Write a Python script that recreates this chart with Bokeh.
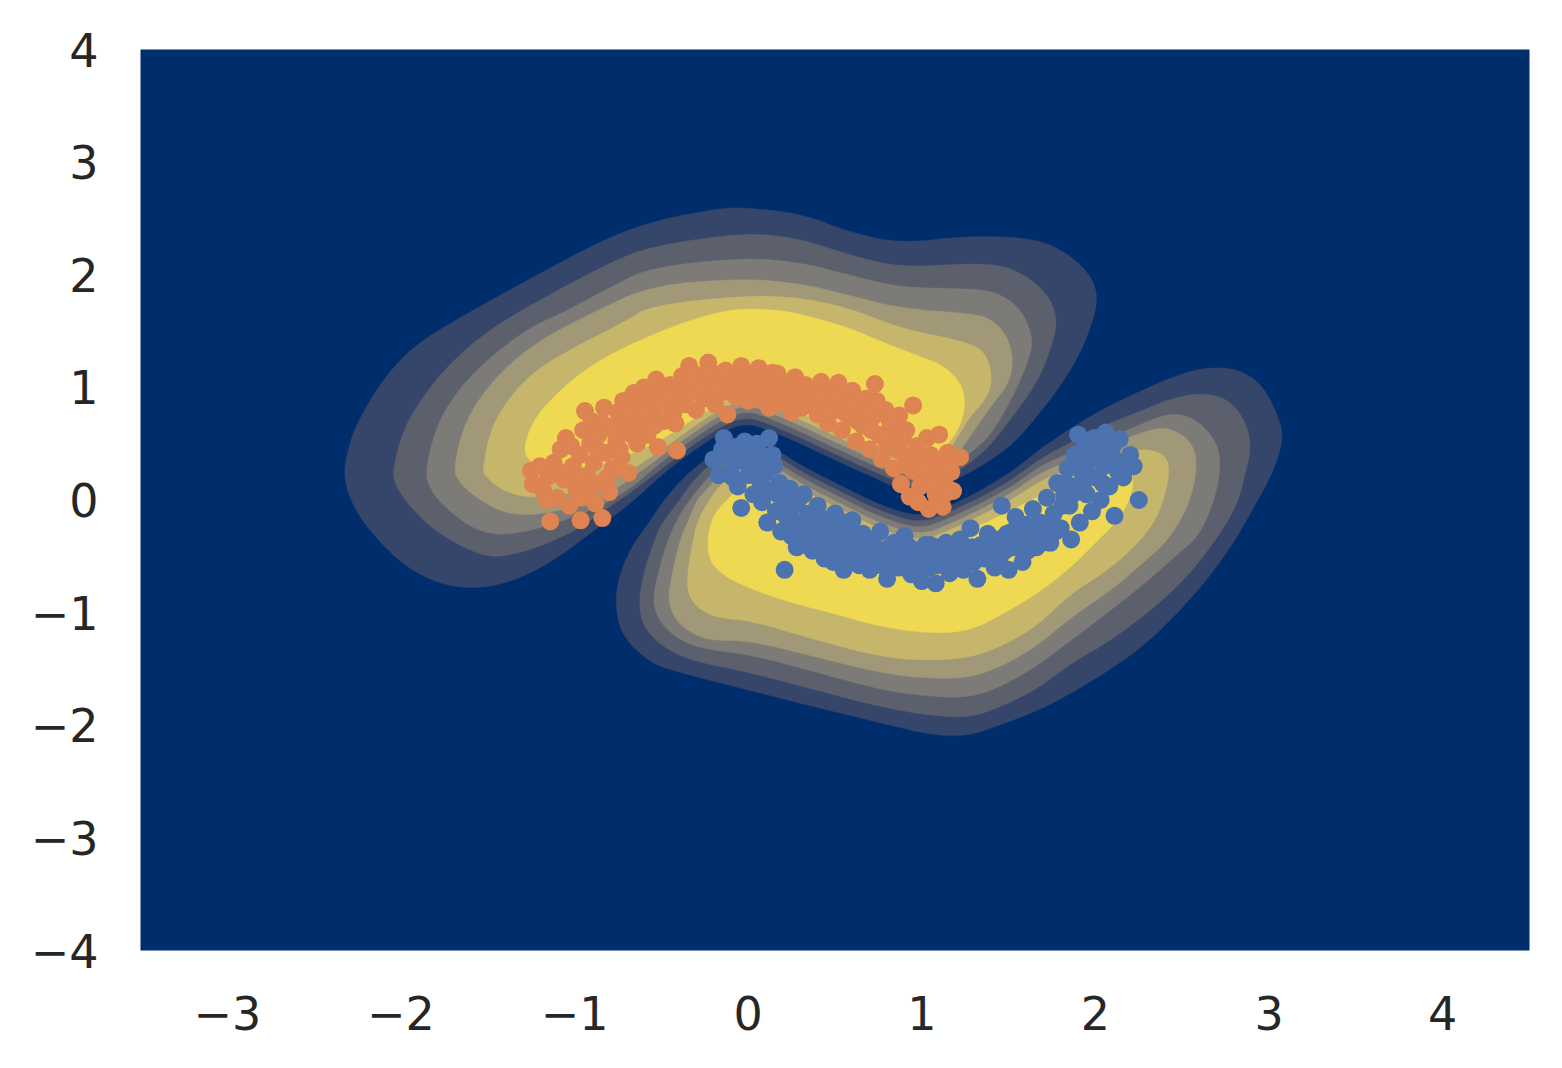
import numpy as np
from bokeh.plotting import figure
from bokeh.embed import file_html
from bokeh.resources import INLINE
from bokeh.palettes import Cividis256
from bokeh.models import Range1d, FixedTicker, CustomJSTickFormatter

# ---------------- data ----------------
x_ticks = [-3, -2, -1, 0, 1, 2, 3, 4]
y_ticks = [-4, -3, -2, -1, 0, 1, 2, 3, 4]

orange_x = [-1.25,-1.24,-1.18,-1.15,-1.14,-1.12,-1.10,-1.08,-1.06,-1.05,-1.03,-1.01,-0.99,-0.97,-0.965,-0.95,-0.94,-0.93,-0.92,-0.91,
            -0.90,-0.89,-0.88,-0.86,-0.85,-0.84,-0.83,-0.82,-0.80,-0.79,-0.78,
            -0.76,-0.75,-0.73,-0.72,-0.70,-0.69,-0.68,-0.66,-0.64,-0.63,-0.61,-0.60,-0.58,-0.56,-0.55,-0.53,-0.52,-0.50,-0.49,-0.47,
            -0.45,-0.43,-0.41,-0.40,-0.38,-0.36,-0.34,-0.32,-0.30,
            -0.28,-0.26,-0.23,-0.21,-0.19,-0.16,-0.14,-0.12,-0.10,-0.07,-0.04,-0.03,0.00,0.02,0.04,0.06,0.08,0.10,0.12,0.14,
            0.16,0.18,0.20,0.23,0.25,0.27,0.29,0.31,
            0.33,0.36,0.38,0.40,0.42,0.44,0.46,0.48,0.50,0.52,0.54,0.56,0.58,0.60,0.62,0.64,0.66,0.68,0.70,0.72,
            0.73,0.75,0.77,0.79,0.80,0.82,0.84,0.86,0.87,0.88,0.90,0.91,0.93,0.95,0.95,0.97,0.98,1.00,1.01,1.03,
            1.04,1.05,1.06,1.08,1.10,1.11,1.12,1.13,1.15,1.17,1.18,1.22,
            -1.20,-1.16,-1.09,-1.02,-0.98,-0.96,-0.90,-0.87,-0.84,-0.81,-0.77,-0.74,-0.71,-0.67,-0.65,-0.62,-0.59,-0.57,-0.54,-0.51,
            -0.48,-0.44,-0.42,-0.39,-0.35,-0.31,-0.27,-0.24,-0.20,-0.17,-0.13,-0.09,-0.05,0.01,0.05,0.09,0.13,0.17,0.21,0.26,
            0.30,0.35,0.39,0.43,0.47,0.51,0.55,0.59,0.63,0.67,0.71,0.74,0.78,0.81,0.85,0.89,0.92,0.96,0.99,1.02,
            1.07,1.09,1.14,1.16]
orange_y = [0.26,0.14,0.08,0.21,-0.19,0.33,0.02,0.45,0.18,0.55,-0.05,0.30,0.10,0.40,-0.18,0.62,0.79,0.22,0.05,0.50,
            0.70,0.33,-0.03,0.58,0.15,-0.16,0.82,0.42,0.07,0.65,0.28,
            0.52,0.78,0.38,0.88,0.60,0.24,0.72,0.95,0.50,0.83,0.68,1.00,0.58,0.88,0.76,1.07,0.47,0.95,0.70,0.85,
            1.02,0.78,0.44,0.92,1.10,0.85,1.19,0.98,0.80,
            1.08,0.90,1.22,1.02,0.85,1.12,0.96,0.76,1.05,0.92,1.19,1.00,0.88,1.10,0.97,1.17,0.90,1.04,0.82,1.13,
            0.95,1.06,0.86,1.00,0.78,1.09,0.92,0.82,
            1.02,0.88,0.97,0.76,1.05,0.85,0.68,0.96,0.80,1.04,0.62,0.88,0.74,0.97,0.52,0.82,0.66,0.90,0.45,0.74,
            1.03,0.58,0.36,0.80,0.48,0.66,0.28,0.55,0.75,0.14,0.40,0.62,0.03,0.84,0.26,0.48,-0.02,0.33,0.15,0.55,
            -0.08,0.40,0.22,0.05,0.58,0.30,-0.06,0.16,0.42,0.25,0.08,0.38,
            0.30,0.00,0.25,0.48,0.20,0.02,0.12,0.45,0.68,0.20,0.62,0.45,0.74,0.58,0.86,0.62,0.78,0.95,0.66,0.86,
            1.00,0.90,0.68,1.02,0.95,1.12,0.98,1.12,0.95,1.00,1.15,0.98,1.08,1.00,1.06,0.97,1.00,1.12,0.96,0.88,
            1.02,0.95,0.88,0.94,0.80,0.92,0.78,0.85,0.70,0.78,0.62,0.88,0.56,0.72,0.45,0.55,0.30,0.38,0.12,0.26,
            0.12,0.35,0.06,0.30]

blue_x = [-0.20,-0.17,-0.14,-0.12,-0.10,-0.08,-0.06,-0.05,-0.04,-0.02, 0.00,0.01,0.03,0.04,0.05,0.07,0.08,0.09,0.10,0.11,
          0.12,0.13,0.15,0.16,0.18,0.19,0.20,0.21,0.22,0.24, 0.25,0.27,0.28,0.30,0.32,0.33,0.35,0.37,0.39,0.40,
          0.42,0.44,0.45,0.47,0.49,0.50,0.52,0.54,0.55,0.57, 0.59,0.60,0.62,0.64,0.66,0.68,0.70,0.72,0.74,0.76,
          0.78,0.80,0.82,0.84,0.86,0.88,0.90,0.92,0.94,0.96, 0.98,1.00,1.02,1.04,1.06,1.08,1.10,1.12,1.14,1.16,
          1.18,1.20,1.22,1.24,1.26,1.28,1.30,1.32,1.34,1.36, 1.38,1.40,1.42,1.44,1.46,1.48,1.50,1.52,1.54,1.56,
          1.58,1.60,1.62,1.64,1.66,1.68,1.70,1.72,1.74,1.76, 1.78,1.80,1.82,1.84,1.85,1.86,1.88,1.89,1.90,1.91,
          1.92,1.94,1.95,1.96,1.98,1.99,2.00,2.02,2.03,2.05, 2.06,2.08,2.10,2.11,2.12,2.14,2.16,2.20,2.22,2.25,
          -0.15,-0.09,-0.03,0.02,0.06,0.10,0.14,0.17,0.23,0.26, 0.29,0.31,0.34,0.38,0.41,0.43,0.46,0.51,0.53,0.56,
          0.58,0.61,0.65,0.69,0.73,0.77,0.81,0.85,0.89,0.93, 0.97,1.01,1.05,1.09,1.13,1.17,1.21,1.25,1.29,1.33,
          1.37,1.41,1.45,1.49,1.53,1.57,1.61,1.65,1.69,1.73, 1.77,1.81,1.83,1.87,1.91,1.93,1.97,2.01,2.04,2.07,
          2.13,2.18]
blue_y = [0.36,0.22,0.55,0.40,0.28,0.47,0.12,0.35,-0.07,0.52, 0.22,0.40,0.05,0.30,0.50,0.15,-0.02,0.38,0.24,-0.20,
          0.55,0.08,0.30,-0.10,0.15,-0.28,0.02,-0.62,-0.15,0.10, -0.32,-0.05,-0.42,-0.20,0.05,-0.35,-0.12,-0.45,-0.25,-0.05,
          -0.38,-0.52,-0.18,-0.30,-0.55,-0.12,-0.42,-0.25,-0.62,-0.35, -0.50,-0.18,-0.42,-0.58,-0.30,-0.48,-0.62,-0.38,-0.52,-0.28,
          -0.45,-0.70,-0.55,-0.38,-0.60,-0.48,-0.32,-0.58,-0.66,-0.45, -0.55,-0.72,-0.40,-0.60,-0.50,-0.74,-0.42,-0.56,-0.38,-0.65,
          -0.48,-0.58,-0.35,-0.62,-0.45,-0.25,-0.55,-0.70,-0.40,-0.52, -0.30,-0.48,-0.60,-0.35,-0.05,-0.45,-0.62,-0.28,-0.15,-0.40,
          -0.55,-0.22,-0.35,-0.08,-0.42,-0.20,-0.30,0.02,-0.38,-0.12, 0.15,-0.25,0.05,0.28,-0.05,-0.35,0.40,0.12,0.58,-0.20,
          0.25,0.48,0.05,0.35,-0.10,0.55,0.20,0.42,0.00,0.30, 0.60,0.12,0.48,-0.14,0.35,0.54,0.20,0.40,0.30,0.00,
          0.45,0.20,0.42,0.30,0.42,0.10,0.40,0.05,-0.08,-0.20, 0.00,-0.30,-0.22,-0.35,-0.15,-0.28,-0.42,-0.30,-0.48,-0.20,
          -0.42,-0.30,-0.45,-0.35,-0.48,-0.58,-0.42,-0.50,-0.60,-0.42, -0.62,-0.50,-0.40,-0.58,-0.48,-0.52,-0.45,-0.55,-0.42,-0.48,
          -0.40,-0.38,-0.50,-0.30,-0.42,-0.30,-0.45,-0.25,-0.38,-0.20, -0.28,-0.05,0.15,0.05,0.35,0.10,0.22,0.38,0.15,0.45,
          0.25,0.30]

# density contour outlines (upper lobe "u", lower lobe "l"), level 1 = outermost
u1_x = [-2.331,-2.290,-2.250,-2.118,-1.928,-1.640,-1.253,-0.867,-0.562,-0.176,-0.026,0.302,0.590,0.878,1.281,1.667,1.857,1.972,2.013,1.990,
        1.915,1.800,1.667,1.529,1.367,1.166,0.981,0.763,0.532,0.302,0.129,-0.015,-0.159,-0.332,-0.505,-0.677,-0.867,-1.063,-1.253,-1.444,
        -1.640,-1.830,-2.020,-2.215,-2.302]
u1_y = [0.261,0.528,0.687,1.043,1.371,1.638,1.967,2.287,2.472,2.588,2.597,2.544,2.375,2.277,2.348,2.321,2.171,1.993,1.815,1.611,
        1.309,1.016,0.750,0.501,0.323,0.155,0.021,0.172,0.332,0.501,0.616,0.687,0.599,0.421,0.217,-0.032,-0.245,-0.476,-0.653,-0.760,
        -0.786,-0.716,-0.538,-0.210,0.039]
u2_x = [-2.049,-1.985,-1.870,-1.714,-1.484,-1.156,-0.793,-0.562,-0.026,0.302,0.590,0.878,1.281,1.471,1.627,1.742,1.782,1.742,1.667,1.471,
        1.356,1.166,0.981,0.763,0.532,0.302,0.129,-0.015,-0.159,-0.332,-0.505,-0.677,-0.775,-0.965,-1.156,-1.328,-1.484,-1.640,-1.830,-1.962,
        -2.031]
u2_y = [0.261,0.634,0.927,1.220,1.522,1.815,2.109,2.251,2.375,2.321,2.171,2.064,2.100,2.082,1.967,1.789,1.576,1.345,1.043,0.634,
        0.421,0.208,0.083,0.226,0.385,0.554,0.670,0.742,0.652,0.474,0.270,0.066,-0.032,-0.245,-0.387,-0.476,-0.511,-0.423,-0.245,-0.032,
        0.128]
u3_x = [-1.858,-1.801,-1.697,-1.524,-1.271,-1.063,-0.775,-0.562,-0.026,0.302,0.590,0.878,1.281,1.437,1.569,1.638,1.627,1.529,1.396,1.281,
        1.166,0.981,0.763,0.532,0.302,0.129,-0.015,-0.159,-0.332,-0.505,-0.677,-0.867,-1.063,-1.253,-1.444,-1.599,-1.772,-1.841]
u3_y = [0.261,0.634,0.927,1.220,1.522,1.665,1.905,2.064,2.153,2.109,1.993,1.886,1.877,1.842,1.700,1.460,1.282,0.927,0.572,0.421,
        0.261,0.137,0.279,0.439,0.607,0.724,0.795,0.705,0.528,0.332,0.101,-0.067,-0.183,-0.272,-0.316,-0.245,-0.032,0.128]
u4_x = [-1.697,-1.645,-1.541,-1.369,-1.156,-0.891,-0.562,-0.026,0.302,0.590,0.878,1.281,1.396,1.494,1.529,1.494,1.413,1.281,1.166,0.981,
        0.763,0.532,0.302,0.129,-0.015,-0.159,-0.332,-0.505,-0.677,-0.775,-1.063,-1.294,-1.444,-1.599,-1.668]
u4_y = [0.261,0.634,0.927,1.220,1.460,1.665,1.905,1.967,1.922,1.815,1.700,1.656,1.611,1.460,1.220,1.016,0.866,0.572,0.314,0.190,
        0.332,0.492,0.661,0.777,0.848,0.758,0.581,0.385,0.190,0.083,-0.094,-0.139,-0.094,0.057,0.172]
u5_x = [-1.530,-1.484,-1.369,-1.213,-0.983,-0.718,-0.562,-0.026,0.302,0.590,0.878,1.281,1.379,1.408,1.356,1.281,1.212,1.137,0.981,0.763,
        0.532,0.302,0.129,-0.015,-0.159,-0.332,-0.505,-0.677,-0.850,-1.023,-1.213,-1.328,-1.444,-1.513]
u5_y = [0.261,0.634,0.927,1.167,1.371,1.576,1.727,1.815,1.798,1.700,1.522,1.398,1.282,1.043,0.866,0.750,0.572,0.394,0.261,0.385,
        0.545,0.715,0.830,0.901,0.813,0.634,0.439,0.261,0.155,0.057,0.021,0.039,0.110,0.217]
u6_x = [-1.294,-1.253,-1.156,-0.965,-0.775,-0.562,-0.372,-0.176,-0.026,0.204,0.400,0.590,0.780,0.976,1.125,1.224,1.252,1.224,1.148,1.050,
        0.878,0.763,0.532,0.302,0.129,-0.015,-0.159,-0.332,-0.505,-0.735,-0.965,-1.138,-1.253]
u6_y = [0.439,0.661,0.866,1.132,1.309,1.460,1.576,1.665,1.700,1.683,1.611,1.522,1.398,1.282,1.194,1.043,0.866,0.661,0.483,0.394,
        0.368,0.465,0.616,0.777,0.883,0.954,0.866,0.705,0.528,0.368,0.261,0.279,0.332]

l1_x = [-0.562,-0.677,-0.752,-0.764,-0.718,-0.562,-0.372,0.014,0.400,0.780,1.068,1.281,1.471,1.667,1.857,2.047,2.243,2.433,2.624,2.779,
        2.912,3.027,3.079,3.067,2.969,2.820,2.624,2.433,2.243,2.047,1.857,1.684,1.529,1.339,1.166,0.993,0.763,0.532,0.302,0.129,
        -0.003,-0.159,-0.332,-0.476]
l1_y = [-0.183,-0.423,-0.716,-0.981,-1.221,-1.452,-1.541,-1.692,-1.843,-1.985,-2.092,-2.092,-1.985,-1.870,-1.719,-1.541,-1.337,-1.070,-0.742,-0.423,
        -0.067,0.261,0.528,0.687,1.016,1.167,1.176,1.087,0.954,0.812,0.634,0.456,0.261,0.083,-0.050,-0.156,-0.050,0.128,0.306,0.483,
        0.590,0.456,0.261,0.021]
l2_x = [-0.505,-0.533,-0.591,-0.631,-0.608,-0.505,-0.332,0.014,0.400,0.780,1.050,1.281,1.471,1.667,1.857,2.088,2.318,2.520,2.704,2.820,
        2.866,2.894,2.877,2.779,2.624,2.433,2.243,2.047,1.857,1.684,1.529,1.339,1.166,0.993,0.763,0.532,0.302,0.129,-0.003,-0.159,
        -0.303,-0.418]
l2_y = [-0.227,-0.334,-0.583,-0.893,-1.115,-1.292,-1.426,-1.532,-1.692,-1.843,-1.914,-1.932,-1.825,-1.674,-1.452,-1.248,-0.981,-0.698,-0.334,-0.032,
        0.261,0.439,0.661,0.883,0.954,0.901,0.777,0.661,0.510,0.368,0.190,0.021,-0.103,-0.210,-0.103,0.075,0.252,0.430,0.528,0.394,
        0.199,-0.050]
l3_x = [-0.389,-0.458,-0.516,-0.551,-0.516,-0.418,-0.274,0.014,0.400,0.780,1.050,1.281,1.471,1.667,1.857,2.088,2.318,2.462,2.589,2.675,
        2.722,2.704,2.578,2.433,2.243,2.047,1.857,1.684,1.529,1.339,1.166,0.993,0.763,0.532,0.302,0.129,-0.003,-0.147,-0.274]
l3_y = [-0.112,-0.334,-0.627,-0.893,-1.070,-1.221,-1.320,-1.373,-1.532,-1.692,-1.745,-1.754,-1.647,-1.469,-1.248,-0.981,-0.697,-0.494,-0.334,-0.050,
        0.261,0.510,0.724,0.777,0.661,0.528,0.421,0.306,0.128,-0.032,-0.156,-0.263,-0.156,0.021,0.199,0.376,0.474,0.332,0.128]
l4_x = [-0.291,-0.332,-0.389,-0.435,-0.464,-0.418,-0.332,-0.217,0.014,0.400,0.780,1.050,1.281,1.471,1.667,1.857,2.088,2.290,2.433,2.549,
        2.589,2.549,2.433,2.336,2.145,1.857,1.684,1.529,1.339,1.166,0.993,0.763,0.532,0.302,0.129,-0.003,-0.130,-0.245]
l4_y = [0.012,-0.139,-0.334,-0.627,-0.893,-1.070,-1.177,-1.248,-1.248,-1.399,-1.541,-1.585,-1.577,-1.470,-1.292,-1.044,-0.805,-0.538,-0.334,-0.005,
        0.332,0.528,0.634,0.634,0.528,0.350,0.243,0.075,-0.085,-0.210,-0.316,-0.210,-0.032,0.146,0.323,0.421,0.279,0.083]
l5_x = [-0.217,-0.291,-0.314,-0.349,-0.349,-0.274,-0.159,0.014,0.400,0.780,1.050,1.281,1.471,1.667,1.857,2.088,2.278,2.376,2.433,2.393,
        2.243,2.088,1.857,1.684,1.529,1.339,1.166,0.993,0.763,0.532,0.302,0.129,-0.003,-0.113]
l5_y = [0.021,-0.183,-0.334,-0.627,-0.848,-0.981,-1.052,-1.070,-1.248,-1.399,-1.425,-1.399,-1.292,-1.115,-0.830,-0.609,-0.334,-0.094,0.261,0.421,
        0.456,0.394,0.279,0.172,0.012,-0.139,-0.263,-0.370,-0.263,-0.085,0.092,0.270,0.368,0.217]
l6_x = [0.014,-0.084,-0.199,-0.234,-0.228,-0.176,-0.061,0.204,0.492,0.780,1.068,1.281,1.471,1.667,1.857,2.013,2.128,2.186,2.220,2.203,
        2.030,1.800,1.569,1.339,1.166,0.993,0.763,0.532,0.302,0.129]
l6_y = [0.243,0.057,-0.121,-0.334,-0.511,-0.627,-0.742,-0.893,-1.008,-1.132,-1.186,-1.159,-1.008,-0.830,-0.600,-0.361,-0.183,-0.032,0.128,0.279,
        0.261,0.128,-0.050,-0.227,-0.334,-0.432,-0.343,-0.183,-0.005,0.172]

upper_levels = [(u1_x, u1_y), (u2_x, u2_y), (u3_x, u3_y), (u4_x, u4_y), (u5_x, u5_y), (u6_x, u6_y)]
lower_levels = [(l1_x, l1_y), (l2_x, l2_y), (l3_x, l3_y), (l4_x, l4_y), (l5_x, l5_y), (l6_x, l6_y)]

# ---------------- styling ----------------
N_BANDS = 7
band_colors = [Cividis256[int(round((i + 0.5) / N_BANDS * 255))] for i in range(N_BANDS)]
ORANGE = "#dd8452"
BLUE = "#4c72b0"
FONT = "DejaVu Sans"


def smooth_closed(xs, ys, n=2):
    pts = np.column_stack([xs, ys]).astype(float)
    for _ in range(n):
        nxt = np.roll(pts, -1, axis=0)
        q = 0.75 * pts + 0.25 * nxt
        r = 0.25 * pts + 0.75 * nxt
        out = np.empty((2 * len(pts), 2))
        out[0::2] = q
        out[1::2] = r
        pts = out
    return pts[:, 0].tolist(), pts[:, 1].tolist()


p = figure(frame_width=1389, frame_height=901,
           x_range=Range1d(-3.5, 4.5), y_range=Range1d(-4, 4),
           output_backend="svg", toolbar_location=None,
           min_border_left=140, min_border_right=20, min_border_top=49, min_border_bottom=90)
p.background_fill_color = band_colors[0]
p.border_fill_color = "white"
p.outline_line_color = None
p.grid.grid_line_color = None

pxs, pys, pcs = [], [], []
for k in range(6):
    for lv in (upper_levels[k], lower_levels[k]):
        sx, sy = smooth_closed(lv[0], lv[1])
        pxs.append(sx)
        pys.append(sy)
        pcs.append(band_colors[k + 1])
p.patches(xs=pxs, ys=pys, fill_color=pcs, line_color=pcs, line_width=0.5)

p.scatter(blue_x, blue_y, size=18, fill_color=BLUE, line_color=None)
p.scatter(orange_x, orange_y, size=18, fill_color=ORANGE, line_color=None)

fmt = CustomJSTickFormatter(code="return tick < 0 ? '\u2212' + Math.abs(tick) : '' + tick;")
p.xaxis.ticker = FixedTicker(ticks=x_ticks)
p.yaxis.ticker = FixedTicker(ticks=y_ticks)
for ax in (p.xaxis[0], p.yaxis[0]):
    ax.formatter = fmt
    ax.axis_line_color = None
    ax.major_tick_line_color = None
    ax.minor_tick_line_color = None
    ax.major_tick_out = 0
    ax.major_tick_in = 0
    ax.major_label_text_font = FONT
    ax.major_label_text_font_size = "46px"
    ax.major_label_text_color = "#262626"
p.xaxis.major_label_standoff = 45
p.yaxis.major_label_standoff = 42

open("out.html", "w").write(file_html(p, INLINE))
